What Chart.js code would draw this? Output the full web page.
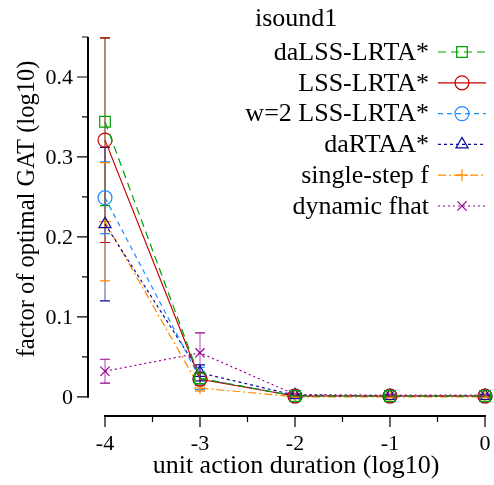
<!DOCTYPE html>
<html lang="en">
<head>
  <meta charset="UTF-8">
  <title>isound1</title>
  <script src="https://cdn.jsdelivr.net/npm/chart.js"></script>
  <style>
    html, body { margin: 0; padding: 0; background: #fff; }
    #wrap { width: 494px; height: 485px; position: relative; }
  </style>
</head>
<body>
  <div id="wrap"><canvas id="chart"></canvas></div>
  <script>
    // x positions (log10 of unit action duration)
    const durations = [-4, -3, -2, -1, 0];

    // series means and error half-widths
    const daLSS      = [0.344, 0.023, 0.001, 0.001, 0.001];
    const daLSSErr   = [0.105, 0.008, 0.001, 0.001, 0.001];
    const lss        = [0.321, 0.022, 0.001, 0.001, 0.001];
    const lssErr     = [0.128, 0.008, 0.001, 0.001, 0.001];
    const w2lss      = [0.249, 0.023, 0.001, 0.001, 0.001];
    const w2lssErr   = [0.045, 0.014, 0.001, 0.001, 0.001];
    const daRTAA     = [0.216, 0.030, 0.002, 0.001, 0.001];
    const daRTAAErr  = [0.096, 0.010, 0.001, 0.001, 0.001];
    const singleF    = [0.219, 0.011, 0.000, 0.000, 0.000];
    const singleFErr = [0.074, 0.004, 0.001, 0.001, 0.001];
    const dynFhat    = [0.032, 0.055, 0.003, 0.002, 0.002];
    const dynFhatErr = [0.015, 0.025, 0.001, 0.001, 0.001];

    const seriesNames = ['daLSS-LRTA*', 'LSS-LRTA*', 'w=2 LSS-LRTA*', 'daRTAA*', 'single-step f', 'dynamic fhat'];
    const legendTitle = 'isound1';

    const xTicks = [-4, -3, -2, -1, 0];
    const xMinorTicks = [-3.5, -2.5, -1.5, -0.5];
    const yTicks = [0, 0.1, 0.2, 0.3, 0.4];
    const yMinorTicks = [0.05, 0.15, 0.25, 0.35, 0.45];
    const xTitle = 'unit action duration (log10)';
    const yTitle = 'factor of optimal GAT (log10)';

    const FONT = '"Liberation Serif", "DejaVu Serif", serif';

    const styles = [
      { color: '#00a000', dash: [8, 5],       point: 'rect',     radius: 7.5 },
      { color: '#c80000', dash: [],           point: 'circle',   radius: 7 },
      { color: '#1a8cff', dash: [5, 4],       point: 'circle',   radius: 7 },
      { color: '#0a0a9a', dash: [3, 3],       point: 'triangle', radius: 7 },
      { color: '#ff8c00', dash: [8, 3, 2, 3], point: 'cross',    radius: 6 },
      { color: '#940094', dash: [2, 3],       point: 'crossRot', radius: 6.5 }
    ];

    const means = [daLSS, lss, w2lss, daRTAA, singleF, dynFhat];
    const errs = [daLSSErr, lssErr, w2lssErr, daRTAAErr, singleFErr, dynFhatErr];

    const datasets = means.map((vals, i) => ({
      label: seriesNames[i],
      data: durations.map((x, j) => ({ x: x, y: vals[j] })),
      errors: errs[i],
      borderColor: styles[i].color,
      borderWidth: 1.2,
      borderDash: styles[i].dash,
      backgroundColor: 'rgba(0,0,0,0)',
      pointStyle: styles[i].point,
      pointRadius: styles[i].radius,
      pointBorderWidth: 1.2,
      pointBackgroundColor: 'rgba(0,0,0,0)',
      pointBorderColor: styles[i].color,
      tension: 0,
      clip: false
    }));

    // error bars, drawn under the markers
    const errorBars = {
      id: 'errorBars',
      beforeDatasetsDraw(chart) {
        const ctx = chart.ctx;
        const xs = chart.scales.x, ys = chart.scales.y;
        ctx.save();
        chart.data.datasets.forEach(ds => {
          ctx.strokeStyle = ds.borderColor;
          ctx.lineWidth = 1.2;
          ctx.setLineDash([]);
          ds.data.forEach((p, j) => {
            const px = xs.getPixelForValue(p.x);
            const top = ys.getPixelForValue(p.y + ds.errors[j]);
            const bot = ys.getPixelForValue(p.y - ds.errors[j]);
            ctx.globalAlpha = 0.6;
            ctx.beginPath();
            ctx.moveTo(px, top); ctx.lineTo(px, bot);
            ctx.stroke();
            ctx.globalAlpha = 1;
            ctx.beginPath();
            ctx.moveTo(px - 5, top); ctx.lineTo(px + 5, top);
            ctx.moveTo(px - 5, bot); ctx.lineTo(px + 5, bot);
            ctx.stroke();
          });
        });
        ctx.restore();
      }
    };

    // range-frame axes, ticks, labels, titles and the key
    const frame = {
      id: 'frame',
      afterDraw(chart) {
        const ctx = chart.ctx;
        const xs = chart.scales.x, ys = chart.scales.y;
        const area = chart.chartArea;
        ctx.save();
        ctx.strokeStyle = '#000';
        ctx.fillStyle = '#000';
        ctx.setLineDash([]);

        // y axis
        const yAxisX = area.left;
        ctx.lineWidth = 2;
        ctx.beginPath();
        ctx.moveTo(yAxisX, ys.getPixelForValue(0.45));
        ctx.lineTo(yAxisX, ys.getPixelForValue(0) + 1);
        ctx.stroke();
        ctx.lineWidth = 1.2;
        ctx.beginPath();
        yTicks.forEach(v => {
          const py = ys.getPixelForValue(v);
          ctx.moveTo(yAxisX - 11, py); ctx.lineTo(yAxisX, py);
        });
        yMinorTicks.forEach(v => {
          const py = ys.getPixelForValue(v);
          ctx.moveTo(yAxisX - 6, py); ctx.lineTo(yAxisX, py);
        });
        ctx.stroke();
        ctx.font = '22px ' + FONT;
        ctx.textAlign = 'right';
        ctx.textBaseline = 'middle';
        yTicks.forEach(v => {
          ctx.fillText(String(v), yAxisX - 15, ys.getPixelForValue(v) + 1);
        });

        // x axis
        const xAxisY = area.bottom;
        ctx.lineWidth = 2;
        ctx.beginPath();
        ctx.moveTo(xs.getPixelForValue(-4) - 1, xAxisY);
        ctx.lineTo(xs.getPixelForValue(0) + 1, xAxisY);
        ctx.stroke();
        ctx.lineWidth = 1.2;
        ctx.beginPath();
        xTicks.forEach(v => {
          const px = xs.getPixelForValue(v);
          ctx.moveTo(px, xAxisY); ctx.lineTo(px, xAxisY + 11);
        });
        xMinorTicks.forEach(v => {
          const px = xs.getPixelForValue(v);
          ctx.moveTo(px, xAxisY); ctx.lineTo(px, xAxisY + 6);
        });
        ctx.stroke();
        ctx.textAlign = 'center';
        xTicks.forEach(v => {
          ctx.fillText(String(v), xs.getPixelForValue(v), xAxisY + 28);
        });

        // axis titles
        ctx.font = '26px ' + FONT;
        ctx.fillText(xTitle, 296, 466);
        ctx.font = '24.5px ' + FONT;
        ctx.translate(28, 209);
        ctx.rotate(-Math.PI / 2);
        ctx.fillText(yTitle, 0, 0);
        ctx.setTransform(1, 0, 0, 1, 0, 0);

        // key
        ctx.font = '26px ' + FONT;
        ctx.textAlign = 'left';
        ctx.fillText(legendTitle, 255, 19);
        chart.data.datasets.forEach((ds, i) => {
          const cy = 52 + i * 30.8;
          ctx.fillStyle = '#000';
          ctx.textAlign = 'right';
          ctx.fillText(ds.label, 429, cy + 1);
          ctx.strokeStyle = ds.borderColor;
          ctx.lineWidth = 1.2;
          ctx.setLineDash(ds.borderDash);
          ctx.beginPath();
          ctx.moveTo(438, cy); ctx.lineTo(486, cy);
          ctx.stroke();
          ctx.setLineDash([]);
          ctx.fillStyle = 'rgba(0,0,0,0)';
          Chart.helpers.drawPoint(ctx, {
            pointStyle: ds.pointStyle, radius: ds.pointRadius, rotation: 0, borderWidth: 1.2
          }, 462, cy);
        });
        ctx.restore();
      }
    };

    new Chart(document.getElementById('chart'), {
      type: 'line',
      data: { datasets: datasets },
      options: {
        responsive: true,
        maintainAspectRatio: false,
        animation: false,
        layout: { padding: { left: 88, top: 37, right: 9, bottom: 69 } },
        plugins: { legend: { display: false }, tooltip: { enabled: false } },
        scales: {
          x: { type: 'linear', min: -4.179, max: 0, display: false },
          y: { type: 'linear', min: -0.024, max: 0.45, display: false }
        }
      },
      plugins: [errorBars, frame]
    });
  </script>
</body>
</html>
